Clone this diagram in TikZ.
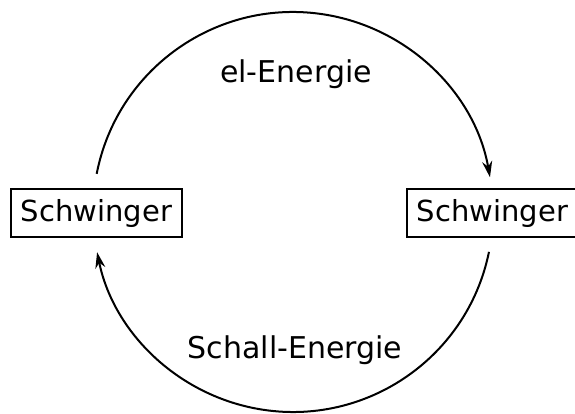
\documentclass[tikz,border=0pt]{standalone}
\usepackage{fontspec}
\setmainfont{DejaVu Sans}
\usepackage{tikz}
\usetikzlibrary{arrows.meta,positioning,calc}
\tikzset{
  box/.style={rectangle, draw=black, line width=2.6pt, minimum width=171pt,
              minimum height=48pt, inner sep=0pt, font=\fontsize{29}{34}\selectfont},
  flow/.style={-{Stealth[length=16pt, width=10pt]}, line width=2pt},
  label/.style={font=\fontsize{30}{34}\selectfont, anchor=base},
}
\begin{document}
\begin{tikzpicture}[x=1pt, y=1pt]
\useasboundingbox (0,0) rectangle (575,413);
\coordinate (o) at (293,201);
\node[box] (left) at (96.5,200) {Schwinger};
\node[box] (right) at (492.5,200) {Schwinger};
\node[label] (el) at (296,330) {el-Energie};
\node[label] (schall) at (295,55) {Schall-Energie};

\coordinate (a1) at ($(o)+(169:200)$);
\coordinate (b1) at ($(o)+(-11.5:200)$);
\draw[flow] (a1) arc[start angle=169, end angle=10, radius=200];
\draw[flow] (b1) arc[start angle=-11.5, end angle=-168.4, radius=200];
\end{tikzpicture}
\end{document}
